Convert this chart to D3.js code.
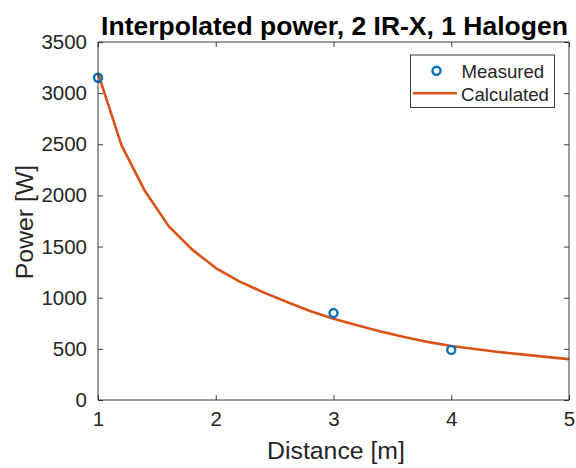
<!DOCTYPE html>
<html>
<head>
<meta charset="utf-8">
<script src="https://cdn.jsdelivr.net/npm/d3@7"></script>
<style>
  html, body { margin: 0; padding: 0; background: #fff; }
  svg { display: block; font-family: "Liberation Sans", Arial, Helvetica, sans-serif; }
</style>
</head>
<body>
<svg id="chart" width="576" height="468"></svg>
<script>
// ---- data ----
const measuredDistance = [1, 3, 4];
const measuredPower = [3150, 850, 490];
const calcDistance = [1.0, 1.2, 1.4, 1.6, 1.8, 2.0, 2.2, 2.4, 2.6, 2.8, 3.0, 3.2, 3.4, 3.6, 3.8, 4.0, 4.2, 4.4, 4.6, 4.8, 5.0];
const calcPower = [3195, 2490, 2040, 1700, 1470, 1290, 1160, 1055, 960, 870, 795, 730, 670, 615, 568, 528, 498, 470, 446, 422, 400];
const xTicks = [1, 2, 3, 4, 5];
const yTicks = [0, 500, 1000, 1500, 2000, 2500, 3000, 3500];
const titleText = "Interpolated power, 2 IR-X, 1 Halogen";
const xLabel = "Distance [m]";
const yLabel = "Power [W]";
const legendLabels = ["Measured", "Calculated"];

// ---- layout ----
const L = 98, R = 569, T = 42, B = 400;
const axisColor = "#262626";
const blue = "#0072BD", orange = "#D95319";

const svg = d3.select("#chart");
const x = d3.scaleLinear().domain([1, 5]).range([L, R]);
const y = d3.scaleLinear().domain([0, 3500]).range([B, T]);

// box
svg.append("rect").attr("x", L).attr("y", T).attr("width", R - L).attr("height", B - T)
  .attr("fill", "#fff").attr("stroke", "none");

// curve
const line = d3.line().x((d, i) => x(calcDistance[i])).y(d => y(d));
svg.append("path").datum(calcPower).attr("d", line)
  .attr("fill", "none").attr("stroke", orange).attr("stroke-width", 2.6)
  .attr("stroke-linejoin", "round");

// measured points
svg.selectAll("circle.m").data(measuredPower).enter().append("circle")
  .attr("class", "m")
  .attr("cx", (d, i) => x(measuredDistance[i])).attr("cy", d => y(d))
  .attr("r", 4).attr("fill", "none").attr("stroke", blue).attr("stroke-width", 2.4);

// axes (ticks inward, box on)
const tickLen = 5;
const fs = 20.5;
const xAxisB = d3.axisBottom(x).tickValues(xTicks).tickSize(-tickLen).tickPadding(11).tickFormat(d3.format("d"));
const xAxisT = d3.axisTop(x).tickValues(xTicks).tickSize(-tickLen).tickFormat("");
const yAxisL = d3.axisLeft(y).tickValues(yTicks).tickSize(-tickLen).tickPadding(11).tickFormat(d3.format("d"));
const yAxisR = d3.axisRight(y).tickValues(yTicks).tickSize(-tickLen).tickFormat("");

function style(g) {
  g.select(".domain").attr("stroke", axisColor).attr("stroke-width", 0.9);
  g.selectAll(".tick line").attr("stroke", axisColor).attr("stroke-width", 0.9);
  g.selectAll(".tick text").attr("fill", axisColor).attr("font-size", fs)
    .attr("font-family", "'Liberation Sans', Arial, sans-serif");
}
svg.append("g").attr("transform", `translate(0,${B})`).call(xAxisB).call(style)
  .call(g => g.select(".domain").attr("d", `M${L},0H${R}`));
svg.append("g").attr("transform", `translate(0,${T})`).call(xAxisT).call(style)
  .call(g => g.select(".domain").attr("d", `M${L},0H${R}`));
svg.append("g").attr("transform", `translate(${L},0)`).call(yAxisL).call(style)
  .call(g => g.select(".domain").attr("d", `M0,${T}V${B}`));
svg.append("g").attr("transform", `translate(${R},0)`).call(yAxisR).call(style)
  .call(g => g.select(".domain").attr("d", `M0,${T}V${B}`));

// title
svg.append("text").attr("x", 334.5).attr("y", 35).attr("text-anchor", "middle")
  .attr("font-size", 26.5).attr("font-weight", "bold").attr("fill", "#000").text(titleText);

// axis labels
svg.append("text").attr("x", 336).attr("y", 459).attr("text-anchor", "middle")
  .attr("font-size", 24.8).attr("fill", axisColor).text(xLabel);
svg.append("text").attr("transform", "translate(33,222) rotate(-90)").attr("text-anchor", "middle")
  .attr("font-size", 24.8).attr("fill", axisColor).text(yLabel);

// legend
const lg = svg.append("g");
lg.append("rect").attr("x", 410.5).attr("y", 55).attr("width", 144).attr("height", 52.5)
  .attr("fill", "#fff").attr("stroke", axisColor).attr("stroke-width", 0.9);
lg.append("circle").attr("cx", 436.5).attr("cy", 70.7).attr("r", 4)
  .attr("fill", "none").attr("stroke", blue).attr("stroke-width", 2.4);
lg.append("line").attr("x1", 413).attr("x2", 457).attr("y1", 93.3).attr("y2", 93.3)
  .attr("stroke", orange).attr("stroke-width", 2.6);
lg.append("text").attr("x", 461.5).attr("y", 78.3).attr("font-size", 18.6).attr("fill", axisColor).text(legendLabels[0]);
lg.append("text").attr("x", 461).attr("y", 100.5).attr("font-size", 18.6).attr("fill", axisColor).text(legendLabels[1]);
</script>
</body>
</html>
